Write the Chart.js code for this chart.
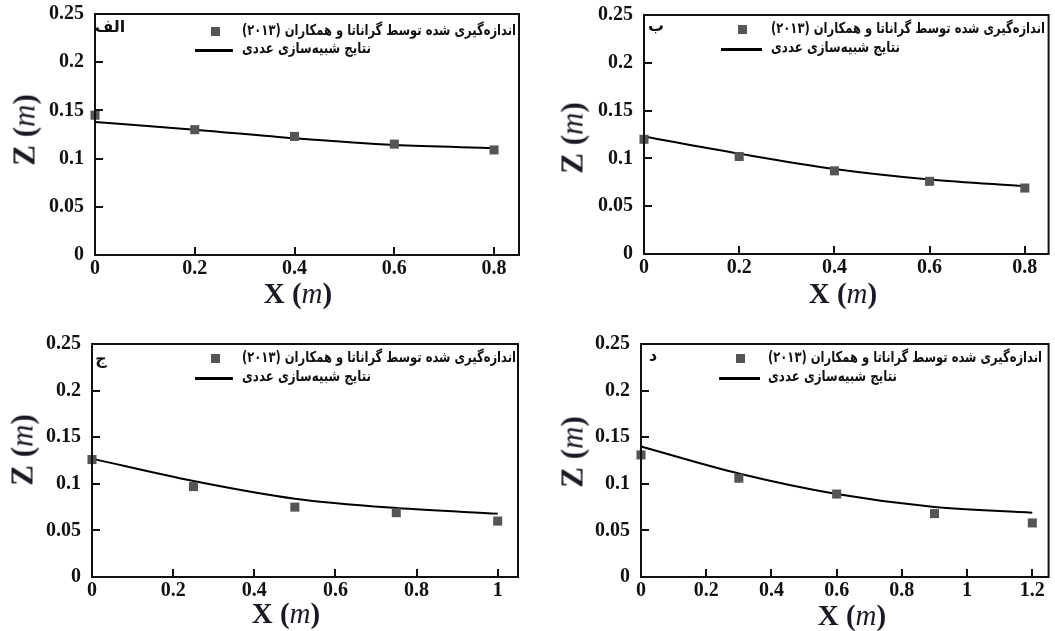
<!DOCTYPE html>
<html><head><meta charset="utf-8">
<script src="https://cdn.jsdelivr.net/npm/chart.js@4.4.1/dist/chart.umd.min.js"></script>
<style>
html,body{margin:0;padding:0;background:#fff;}
#wrap{position:relative;width:1055px;height:631px;overflow:hidden;background:#fff;}
canvas{position:absolute;}
.t{position:absolute;font-family:"Liberation Serif","Times New Roman",serif;color:#1a1a24;white-space:nowrap;line-height:1;font-weight:bold;}
.t i{font-weight:normal;}
.xt{font-size:29px;transform:translate(-50%,-50%);}
.yt{font-size:31px;transform:translate(-50%,-50%) rotate(-90deg);}
.leg{position:absolute;font-family:"DejaVu Sans",sans-serif;font-weight:bold;font-size:15px;white-space:nowrap;direction:rtl;line-height:1;transform-origin:0 50%;color:#111;}
.sq{position:absolute;width:9px;height:9px;background:#555;}
.ln{position:absolute;height:3px;background:#000;}
.pl{position:absolute;font-family:"DejaVu Sans",sans-serif;font-weight:bold;font-size:16px;white-space:nowrap;direction:rtl;line-height:1;transform:translate(-50%,-50%);color:#111;}
</style></head>
<body><div id="wrap"></div>
<script>
// ---- data ----
const yTicks = [0, 0.05, 0.1, 0.15, 0.2, 0.25];
const xTicksA = [0, 0.2, 0.4, 0.6, 0.8];
const xTicksB = [0, 0.2, 0.4, 0.6, 0.8];
const xTicksC = [0, 0.2, 0.4, 0.6, 0.8, 1];
const xTicksD = [0, 0.2, 0.4, 0.6, 0.8, 1, 1.2];

const xA = [0, 0.2, 0.4, 0.6, 0.8];
const measA = [0.145, 0.130, 0.123, 0.115, 0.109];
const simA = [0.138, 0.130, 0.121, 0.114, 0.111];

const xB = [0, 0.2, 0.4, 0.6, 0.8];
const measB = [0.120, 0.102, 0.087, 0.076, 0.069];
const simB = [0.123, 0.105, 0.089, 0.078, 0.071];

const xC = [0, 0.25, 0.5, 0.75, 1];
const measC = [0.126, 0.097, 0.075, 0.069, 0.060];
const simC = [0.127, 0.103, 0.084, 0.074, 0.068];

const xD = [0, 0.3, 0.6, 0.9, 1.2];
const measD = [0.131, 0.106, 0.089, 0.068, 0.058];
const simD = [0.140, 0.111, 0.089, 0.075, 0.069];

const panelLabels = ['الف', 'ب', 'ج', 'د'];
const measLabel = 'اندازه‌گیری شده توسط گراناتا و همکاران (۲۰۱۳)';
const simLabel = 'نتایج شبیه‌سازی عددی';

// ---- layout (positions/sizes) ----
const panels = [
  {x: xA, meas: measA, sim: simA, xt: xTicksA, xmax: 0.85, label: panelLabels[0],
   cv: {l: 0, t: 0, w: 527, h: 310}, plot: {l: 95, t: 14, r: 519, b: 255},
   xTitle: [298, 293], yTitle: [24, 130], pl: [110, 27],
   leg: {sq: [215, 31], ln: [195, 233, 50], tx: 242, r1: 31, r2: 49}},
  {x: xB, meas: measB, sim: simB, xt: xTicksB, xmax: 0.85, label: panelLabels[1],
   cv: {l: 530, t: 0, w: 525, h: 310}, plot: {l: 644, t: 15, r: 1052, b: 254},
   xTitle: [843, 293], yTitle: [572, 138], pl: [656, 26],
   leg: {sq: [742, 29], ln: [721, 762, 49], tx: 771, r1: 29, r2: 48}},
  {x: xC, meas: measC, sim: simC, xt: xTicksC, xmax: 1.05, label: panelLabels[2],
   cv: {l: 0, t: 320, w: 527, h: 311}, plot: {l: 92, t: 344, r: 518, b: 577},
   xTitle: [286, 613], yTitle: [22, 450], pl: [101, 359],
   leg: {sq: [215, 358], ln: [195, 233, 378], tx: 242, r1: 358, r2: 377}},
  {x: xD, meas: measD, sim: simD, xt: xTicksD, xmax: 1.25, label: panelLabels[3],
   cv: {l: 530, t: 320, w: 525, h: 311}, plot: {l: 641, t: 344, r: 1050, b: 577},
   xTitle: [852, 615], yTitle: [572, 452], pl: [653, 356],
   leg: {sq: [740, 358], ln: [719, 760, 378], tx: 768, r1: 358, r2: 377}}
];

const frame = {
  id: 'frame',
  afterDraw(chart) {
    const {ctx, chartArea: a, scales: {x, y}} = chart;
    ctx.save();
    ctx.strokeStyle = '#111';
    ctx.lineWidth = 2;
    ctx.beginPath();
    x.ticks.forEach(t => { const p = Math.round(x.getPixelForValue(t.value)); ctx.moveTo(p, a.bottom); ctx.lineTo(p, a.bottom - 8); });
    y.ticks.forEach(t => { const p = Math.round(y.getPixelForValue(t.value)); ctx.moveTo(a.left, p); ctx.lineTo(a.left + 8, p); });
    ctx.stroke();
    ctx.lineWidth = 2;
    ctx.strokeRect(a.left, a.top, a.right - a.left, a.bottom - a.top);
    ctx.restore();
  }
};

const wrap = document.getElementById('wrap');
const tickFont = {family: '"Liberation Serif","Times New Roman",serif', size: 20, weight: 'bold', lineHeight: 1};
const fmt = v => String(Number(Number(v).toFixed(2)));

function el(cls, html, style) {
  const d = document.createElement('div');
  d.className = cls;
  if (html !== null) d.innerHTML = html;
  Object.assign(d.style, style);
  wrap.appendChild(d);
  return d;
}

const fitList = [];
panels.forEach(P => {
  const c = document.createElement('canvas');
  c.width = P.cv.w; c.height = P.cv.h;
  c.style.left = P.cv.l + 'px'; c.style.top = P.cv.t + 'px';
  c.style.width = P.cv.w + 'px'; c.style.height = P.cv.h + 'px';
  wrap.appendChild(c);
  const plotL = P.plot.l - P.cv.l, plotT = P.plot.t - P.cv.t, plotR = P.plot.r - P.cv.l, plotB = P.plot.b - P.cv.t;
  const chart = new Chart(c, {
    type: 'line',
    data: {
      datasets: [
        {label: measLabel, data: P.x.map((v, i) => ({x: v, y: P.meas[i]})), showLine: false, clip: false,
         pointStyle: 'rect', pointRadius: 6.4, pointBackgroundColor: '#555', pointBorderWidth: 0, borderColor: '#555', backgroundColor: '#555'},
        {label: simLabel, data: P.x.map((v, i) => ({x: v, y: P.sim[i]})), borderColor: '#000', borderWidth: 2, clip: false,
         pointRadius: 0, tension: 0.25, fill: false, cubicInterpolationMode: 'monotone'}
      ]
    },
    options: {
      responsive: false, animation: false,
      layout: {padding: {top: plotT, right: P.cv.w - plotR, left: 0, bottom: 0}},
      plugins: {legend: {display: false}, tooltip: {enabled: false}},
      scales: {
        x: {type: 'linear', min: 0, max: P.xmax,
            grid: {display: false}, border: {display: false},
            ticks: {font: tickFont, color: '#111', padding: -4, maxRotation: 0, callback: v => fmt(v)},
            afterBuildTicks: s => { s.ticks = P.xt.map(v => ({value: v})); },
            afterFit: s => { s.height = P.cv.h - plotB; }},
        y: {type: 'linear', min: 0, max: 0.25,
            grid: {display: false}, border: {display: false},
            ticks: {font: tickFont, color: '#111', padding: 3, callback: v => fmt(v)},
            afterBuildTicks: s => { s.ticks = yTicks.map(v => ({value: v})); },
            afterFit: s => { s.width = plotL; }}
      }
    },
    plugins: [frame]
  });

  el('t xt', 'X (<i>m</i>)', {left: P.xTitle[0] + 'px', top: P.xTitle[1] + 'px'});
  el('t yt', 'Z (<i>m</i>)', {left: P.yTitle[0] + 'px', top: P.yTitle[1] + 'px'});
  el('pl', P.label, {left: P.pl[0] + 'px', top: P.pl[1] + 'px'});
  const ds = chart.data.datasets;
  el('sq', null, {left: (P.leg.sq[0] - 4.5) + 'px', top: (P.leg.sq[1] - 4.5) + 'px', background: ds[0].pointBackgroundColor});
  el('ln', null, {left: P.leg.ln[0] + 'px', width: (P.leg.ln[1] - P.leg.ln[0]) + 'px', top: (P.leg.ln[2] - 1.5) + 'px', background: ds[1].borderColor});
  const t1 = el('leg', ds[0].label, {left: P.leg.tx + 'px', top: (P.leg.r1 - 8) + 'px'});
  const t2 = el('leg', ds[1].label, {left: P.leg.tx + 'px', top: (P.leg.r2 - 8) + 'px'});
  fitList.push([t1, 274], [t2, 129]);
});

function fit() {
  fitList.forEach(([e, w]) => {
    e.style.transform = 'none';
    const cw = e.getBoundingClientRect().width;
    if (cw > 0) e.style.transform = 'scaleX(' + (w / cw) + ')';
  });
}
fit();
if (document.fonts && document.fonts.ready) document.fonts.ready.then(fit);
</script>
</body></html>
